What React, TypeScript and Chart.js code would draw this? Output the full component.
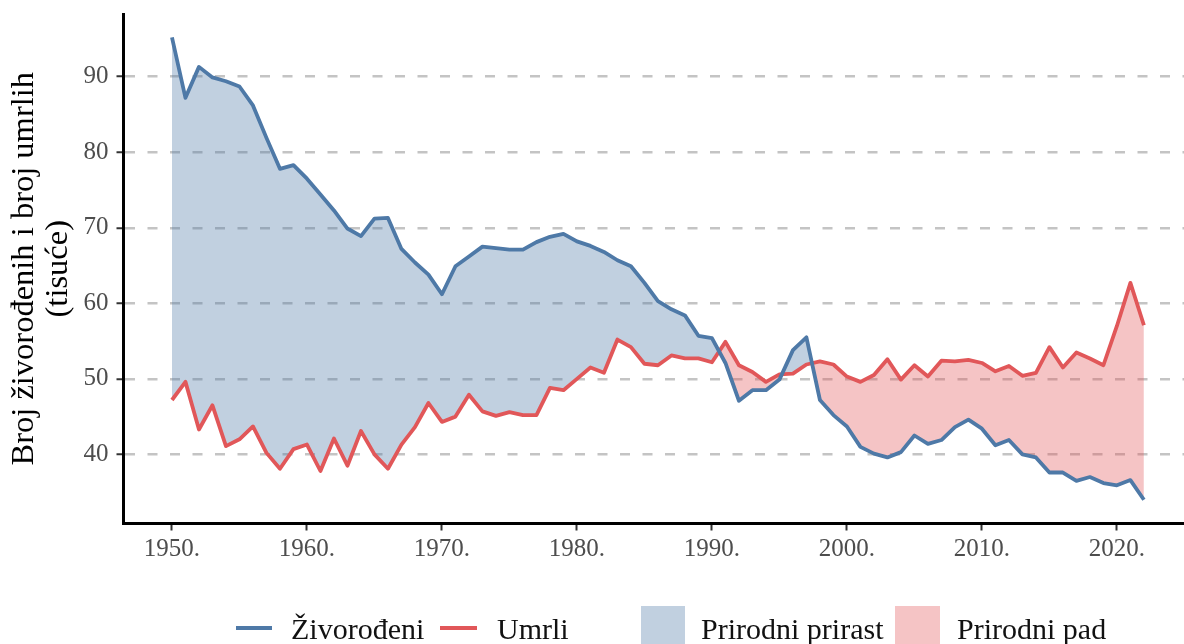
import React, { useEffect, useRef } from "react";
import { Chart, registerables } from "chart.js";

Chart.register(...registerables);

const years = [
  1950, 1951, 1952, 1953, 1954, 1955, 1956, 1957, 1958, 1959,
  1960, 1961, 1962, 1963, 1964, 1965, 1966, 1967, 1968, 1969,
  1970, 1971, 1972, 1973, 1974, 1975, 1976, 1977, 1978, 1979,
  1980, 1981, 1982, 1983, 1984, 1985, 1986, 1987, 1988, 1989,
  1990, 1991, 1992, 1993, 1994, 1995, 1996, 1997, 1998, 1999,
  2000, 2001, 2002, 2003, 2004, 2005, 2006, 2007, 2008, 2009,
  2010, 2011, 2012, 2013, 2014, 2015, 2016, 2017, 2018, 2019,
  2020, 2021, 2022,
];

const births = [
  95.2, 87.2, 91.3, 89.9, 89.4, 88.7, 86.2, 81.9, 77.8, 78.3,
  76.5, 74.4, 72.3, 69.9, 68.9, 71.2, 71.3, 67.2, 65.4, 63.8,
  61.2, 64.9, 66.2, 67.5, 67.3, 67.1, 67.1, 68.1, 68.8, 69.2,
  68.2, 67.6, 66.8, 65.7, 64.9, 62.7, 60.3, 59.2, 58.4, 55.7,
  55.4, 52.1, 47.1, 48.5, 48.5, 49.9, 53.8, 55.5, 47.2, 45.2,
  43.7, 41.0, 40.1, 39.6, 40.3, 42.5, 41.4, 41.9, 43.6, 44.6,
  43.4, 41.2, 41.9, 40.0, 39.6, 37.6, 37.6, 36.5, 37.0, 36.2,
  35.9, 36.6, 34.0,
];

const deaths = [
  47.2, 49.6, 43.3, 46.5, 41.1, 42.0, 43.7, 40.2, 38.1, 40.7,
  41.3, 37.8, 42.1, 38.5, 43.1, 40.0, 38.1, 41.3, 43.6, 46.8,
  44.3, 45.0, 47.9, 45.7, 45.1, 45.6, 45.2, 45.2, 48.8, 48.5,
  50.0, 51.5, 50.8, 55.2, 54.2, 52.0, 51.8, 53.1, 52.7, 52.7,
  52.2, 54.9, 51.8, 50.9, 49.6, 50.6, 50.7, 51.9, 52.3, 51.9,
  50.3, 49.6, 50.5, 52.6, 49.9, 51.8, 50.3, 52.4, 52.3, 52.5,
  52.1, 51.0, 51.7, 50.4, 50.8, 54.2, 51.5, 53.5, 52.7, 51.8,
  57.0, 62.7, 57.1,
];

const xTicks = [1950, 1960, 1970, 1980, 1990, 2000, 2010, 2020];
const yTicks = [40, 50, 60, 70, 80, 90];
const seriesLabels = ["Živorođeni", "Umrli"];
const fillLabels = ["Prirodni prirast", "Prirodni pad"];
const yTitle = ["Broj živorođenih i broj umrlih", "(tisuće)"];

const BLUE = "#4e79a7";
const RED = "#e15759";
const BLUE_FILL = "rgba(78,121,167,0.35)";
const RED_FILL = "rgba(225,87,89,0.35)";
const FONT = "'Liberation Serif', 'Times New Roman', serif";

export default function App() {
  const ref = useRef<HTMLCanvasElement | null>(null);

  useEffect(() => {
    const canvas = ref.current;
    if (!canvas) return;
    const chart = new Chart(canvas, {
      type: "line",
      data: {
        datasets: [
          {
            label: seriesLabels[0],
            data: years.map((y, i) => ({ x: y, y: births[i] })),
            borderColor: BLUE,
            borderWidth: 3.8,
            pointRadius: 0,
            tension: 0,
            borderJoinStyle: "round",
            fill: { target: 1, above: BLUE_FILL, below: RED_FILL },
          },
          {
            label: seriesLabels[1],
            data: years.map((y, i) => ({ x: y, y: deaths[i] })),
            borderColor: RED,
            borderWidth: 3.8,
            pointRadius: 0,
            tension: 0,
            borderJoinStyle: "round",
            fill: false,
          },
        ],
      },
      options: {
        responsive: false,
        animation: false,
        devicePixelRatio: 1,
        layout: { padding: { top: 14, right: 0, bottom: 0, left: 0 } },
        plugins: {
          legend: { display: false },
          tooltip: { enabled: false },
          filler: { drawTime: "beforeDatasetsDraw" },
        },
        scales: {
          x: {
            type: "linear",
            min: 1946.41,
            max: 2024.97,
            afterFit: (s: any) => {
              s.height = 120.5;
              s.paddingLeft = 0;
              s.paddingRight = 0;
            },
            afterBuildTicks: (s: any) => {
              s.ticks = xTicks.map((v) => ({ value: v }));
            },
            ticks: {
              callback: (v: any) => `${v}.`,
              font: { family: FONT, size: 25 },
              color: "#4d4d4d",
              padding: 4,
              maxRotation: 0,
              autoSkip: false,
            },
            grid: {
              display: true,
              drawOnChartArea: false,
              drawTicks: true,
              tickLength: 7,
              tickColor: "#333333",
              tickWidth: 2,
            },
            border: { display: true, color: "#000000", width: 3 },
          },
          y: {
            type: "linear",
            min: 30.85,
            max: 98.3,
            afterFit: (s: any) => {
              s.width = 123.5;
              s.paddingTop = 0;
              s.paddingBottom = 0;
            },
            afterBuildTicks: (s: any) => {
              s.ticks = yTicks.map((v) => ({ value: v }));
            },
            ticks: {
              font: { family: FONT, size: 25 },
              color: "#4d4d4d",
              padding: 8,
            },
            grid: {
              display: true,
              drawOnChartArea: true,
              drawTicks: true,
              color: "#c4c4c4",
              lineWidth: 2.5,
              tickLength: 7,
              tickColor: "#333333",
              tickWidth: 2,
              tickBorderDash: [],
            },
            border: { display: true, color: "#000000", width: 3, dash: [10, 12.5] },
            title: {
              display: true,
              text: yTitle,
              font: { family: FONT, size: 32.5, lineHeight: 1.05 },
              color: "#000000",
              padding: { top: 7, bottom: 0 },
            },
          },
        },
      },
    });
    return () => chart.destroy();
  }, []);

  const textStyle: React.CSSProperties = {
    position: "absolute",
    fontFamily: FONT,
    fontSize: 30,
    lineHeight: "30px",
    color: "#111",
    whiteSpace: "nowrap",
  };

  return (
    <div style={{ position: "absolute", left: 0, top: 0, width: 1184, height: 644, overflow: "hidden", background: "#fff" }}>
      <canvas ref={ref} width={1184} height={644} style={{ position: "absolute", left: 0, top: 0 }} />
      <div style={{ position: "absolute", left: 236, top: 626, width: 36, height: 4, background: BLUE }} />
      <div style={{ ...textStyle, left: 291, top: 614 }}>{seriesLabels[0]}</div>
      <div style={{ position: "absolute", left: 440, top: 626, width: 37, height: 4, background: RED }} />
      <div style={{ ...textStyle, left: 497, top: 614 }}>{seriesLabels[1]}</div>
      <div style={{ position: "absolute", left: 641, top: 606, width: 44, height: 45, background: BLUE_FILL }} />
      <div style={{ ...textStyle, left: 701, top: 614 }}>{fillLabels[0]}</div>
      <div style={{ position: "absolute", left: 895, top: 606, width: 45, height: 45, background: RED_FILL }} />
      <div style={{ ...textStyle, left: 957, top: 614 }}>{fillLabels[1]}</div>
    </div>
  );
}
